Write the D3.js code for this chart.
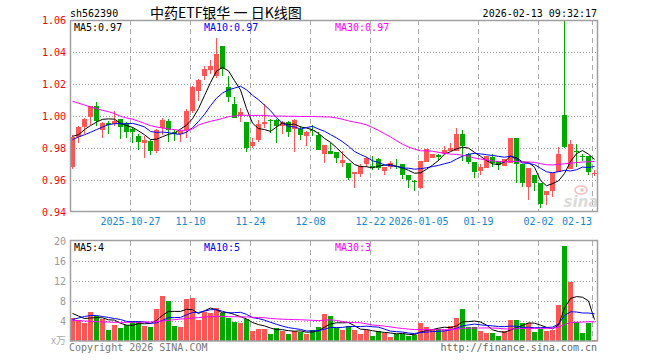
<!DOCTYPE html>
<html>
<head>
<meta charset="utf-8">
<script src="https://cdn.jsdelivr.net/npm/d3@7/dist/d3.min.js"></script>
<style>
  body { margin: 0; background: #fff; }
</style>
</head>
<body>
<svg width="660" height="360"></svg>
<script>
// daily K data, 2025-10-13 .. 2026-02-13 (88 sessions)
const open = [
  .968, .987, .993, .9995, 1.006, .9915, .9955, .995, .998, .9955,
  .992, .9877, .983, .9845, .978, .9925, .9967, .990, .9885, .991,
  1.003, 1.0155, 1.025, 1.0285, 1.025, 1.0435, 1.018, 1.0077, 1.0005, .996,
  .981, .985, .995, .9977, .9977, .994, .9965, .9917, .9917, .9875,
  .9913, .9881, .976, .9781, .9775, .9708, .9708, .9635, .9635, .9698,
  .969, .9729, .9656, .968, .969, .9698, .9629, .9595, .9552, .9715,
  .9735, .9755, .976, .978, .978, .9885, .976, .9712, .9656, .9677,
  .9744, .9719, .9688, .9708, .9865, .9698, .9556, .9629, .958, .9506,
  .9531, .9652, 1.0004, .9667, .978, .975, .975, .964
];
const high = [
  .988, .994, .999, 1.0065, 1.0085, .996, .997, 1.003, .998, .996,
  .993, .9885, .9875, .985, .992, .9985, .998, .991, .9915, 1.0046,
  1.019, 1.023, 1.031, 1.035, 1.0485, 1.0435, 1.025, 1.012, 1.0052, .996,
  .9865, .9975, 1.0077, .998, .998, .997, .997, .998, .994, .9905,
  .9944, .990, .9819, .9833, .9775, .9781, .9708, .9652, .9698, .9745,
  .975, .9735, .9681, .9718, .9729, .9698, .9629, .9598, .9719, .9796,
  .9765, .9765, .9812, .9833, .9927, .991, .977, .9712, .970, .975,
  .976, .9719, .9729, .9865, .9865, .9698, .9677, .9629, .958, .9531,
  .9646, .9806, 1.06, .9848, .9827, .976, .975, .9665
];
const low = [
  .967, .983, .989, .9945, .994, .986, .989, .994, .9855, .986,
  .983, .979, .974, .9755, .977, .988, .984, .9845, .984, .986,
  1.002, 1.0095, 1.0225, 1.026, 1.024, 1.025, 1.0085, .9985, .9965, .9775,
  .980, .984, .9927, .9896, .9833, .9885, .987, .9777, .985, .981,
  .9875, .9788, .9704, .976, .9704, .9683, .960, .9548, .962, .968,
  .966, .966, .9631, .967, .967, .9606, .955, .953, .9542, .9715,
  .9735, .9717, .976, .978, .978, .9719, .970, .9615, .963, .9677,
  .968, .9665, .9688, .9708, .9583, .9556, .9473, .9531, .9423, .9444,
  .9494, .9652, .9802, .9667, .9681, .9719, .9631, .9625
];
const close = [
  .987, .993, .998, 1.006, .997, .9955, .9945, .997, .993, .990,
  .990, .9835, .985, .978, .991, .9977, .991, .989, .9905, 1.003,
  1.018, 1.0227, 1.0295, 1.0315, 1.0385, 1.0295, 1.012, .999, 1.0027, .980,
  .984, .995, .996, .9969, .9937, .9965, .990, .9977, .9881, .9902,
  .9908, .9788, .9819, .976, .9735, .9725, .9614, .9652, .969, .9735,
  .9685, .9673, .9681, .9708, .9685, .9631, .9598, .959, .9719, .9796,
  .976, .9745, .9785, .980, .9885, .9812, .9715, .965, .9681, .975,
  .9708, .9694, .9729, .9865, .9698, .958, .9677, .958, .9452, .9531,
  .9646, .9765, .9808, .9827, .9775, .9745, .9652, .9645
];
// volume, 万手
const volume = [
  4.6, 4.3, 3.6, 5.8, 5.1, 4.4, 2.3, 3.3, 2.6, 3.3,
  4.1, 4.1, 3.1, 2.9, 6.4, 9.1, 8.1, 3.1, 2.9, 8.5,
  8.7, 4.3, 5.8, 5.7, 6.7, 5.7, 4.6, 3.8, 3.6, 4.4,
  2.1, 2.5, 2.5, 1.5, 2.7, 2.1, 1.5, 2.0, 1.8, 1.4,
  2.3, 2.9, 5.4, 5.0, 2.6, 2.3, 3.1, 2.3, 1.5, 2.3,
  1.1, 2.1, 1.6, 0.9, 1.5, 1.5, 1.1, 1.3, 3.6, 2.9,
  2.5, 2.5, 2.3, 3.1, 4.7, 6.5, 2.8, 2.9, 2.1, 1.7,
  1.7, 1.1, 2.1, 4.3, 4.3, 3.7, 3.7, 1.8, 2.4, 2.0,
  2.3, 7.3, 19.0, 11.9, 3.9, 1.7, 3.6, 0.3
];

// moving averages before a full window is on screen
const ma5Head = [.9873, .9883, .9915, .994];
const ma10Head = [.9852, .9869, .9883, .9898, .9915, .9931, .9946, .9952, .9952];
const ma30Head = [
  1.0092, 1.008, 1.0069, 1.0056, 1.0046, 1.0035, 1.0027, 1.0015, .9998, .9988,
  .998, .9967, .9954, .994, .9931, .9925, .9919, .9915, .991, .991,
  .9919, .9944, .9956, .9967, .9975, .9985, .9996, 1.0, 1.0004
];
const volMa5Head = [5.5, 5.0, 4.5, 4.6];
const volMa10Head = [4.3, 4.6, 4.9, 5.1, 5.1, 4.9, 4.7, 4.5, 4.3];
const volMa30Head = [
  4.13, 4.07, 4.0, 3.93, 3.87, 3.8, 3.8, 3.73, 3.73, 3.73,
  3.73, 3.73, 3.8, 3.8, 3.87, 4.0, 4.13, 4.27, 4.4, 4.47,
  4.6, 4.67, 4.8, 4.87, 4.93, 4.93, 4.87, 4.87, 4.8
];

const tickIdx = [10, 20, 30, 40, 50, 58, 68, 78, 87];
const tickLabels = ['2025-10-27', '11-10', '11-24', '12-08', '12-22', '2026-01-05', '01-19', '02-02', '02-13'];
const priceTicks = [0.94, 0.96, 0.98, 1.00, 1.02, 1.04, 1.06];
const volTicks = [4, 8, 12, 16, 20];
const maNames = ['MA5', 'MA10', 'MA30'];
const priceMaText = ['0.97', '0.97', '0.97'];
const volMaText = ['4', '5', '3'];

const RED = '#ff5555', GREEN = '#00a800';
const MA_COLORS = ['#000', '#0000ff', '#ff00ff'];
const mono = '"DejaVu Sans Mono", monospace';

const svg = d3.select('svg');
const n = close.length;

const x = d3.scaleBand().domain(d3.range(n)).range([70, 70 + 6 * n - 1]).paddingInner(1 / 6).paddingOuter(0);
const y = d3.scaleLinear().domain([0.94, 1.06]).range([212, 20]);
const yv = d3.scaleLinear().domain([0, 20]).range([341, 241]);

const ma = (arr, k, head) => arr.map((_, i) => i < k - 1 ? head[i] : d3.mean(arr.slice(i - k + 1, i + 1)));
const priceMa = [ma(close, 5, ma5Head), ma(close, 10, ma10Head), ma(close, 30, ma30Head)];
const volMa = [ma(volume, 5, volMa5Head), ma(volume, 10, volMa10Head), ma(volume, 30, volMa30Head)];

const up = i => close[i] >= open[i];

// grid
const grid = svg.append('g').attr('fill', 'none');
grid.selectAll('.hp').data(priceTicks.slice(1, -1)).enter().append('line')
  .attr('x1', 70).attr('x2', 598)
  .attr('y1', d => Math.round(y(d)) + 0.5).attr('y2', d => Math.round(y(d)) + 0.5)
  .attr('stroke', '#999').attr('stroke-dasharray', '1,2');
grid.selectAll('.hv').data(volTicks.slice(0, -1)).enter().append('line')
  .attr('x1', 70).attr('x2', 598)
  .attr('y1', d => Math.round(yv(d)) + 0.5).attr('y2', d => Math.round(yv(d)) + 0.5)
  .attr('stroke', '#999').attr('stroke-dasharray', '1,2');
[[20, 212], [241, 341]].forEach(([a, b]) => {
  grid.selectAll(null).data(tickIdx).enter().append('line')
    .attr('x1', d => x(d) + 0.5).attr('x2', d => x(d) + 0.5)
    .attr('y1', a).attr('y2', b)
    .attr('stroke', '#aaa').attr('stroke-dasharray', '5,4');
});

// watermark
const wm = svg.append('g').attr('opacity', 0.75);
wm.append('ellipse').attr('cx', 581).attr('cy', 190).attr('rx', 6).attr('ry', 4)
  .attr('fill', 'none').attr('stroke', '#f0a8a8').attr('stroke-width', 1.5);
wm.append('circle').attr('cx', 582).attr('cy', 190).attr('r', 1.8).attr('fill', '#f0a8a8');
wm.append('text').attr('x', 581).attr('y', 207).attr('text-anchor', 'middle')
  .attr('font-family', 'DejaVu Sans').attr('font-size', 15).attr('font-weight', 'bold').attr('font-style', 'italic')
  .attr('fill', '#cfcfcf').text('sina');

// candles
const candles = svg.append('g').attr('shape-rendering', 'crispEdges');
candles.selectAll('.wick').data(d3.range(n)).enter().append('rect')
  .attr('x', i => x(i) + 2).attr('width', 1)
  .attr('y', i => y(high[i])).attr('height', i => Math.max(1, y(low[i]) - y(high[i])))
  .attr('fill', i => up(i) ? RED : GREEN);
candles.selectAll('.body').data(d3.range(n)).enter().append('rect')
  .attr('x', i => x(i)).attr('width', x.bandwidth())
  .attr('y', i => y(Math.max(open[i], close[i])))
  .attr('height', i => Math.max(1, Math.abs(y(open[i]) - y(close[i]))))
  .attr('fill', i => up(i) ? RED : GREEN);

// volume bars
svg.append('g').attr('shape-rendering', 'crispEdges')
  .selectAll('rect').data(volume).enter().append('rect')
  .attr('x', (d, i) => x(i)).attr('width', x.bandwidth())
  .attr('y', d => yv(d)).attr('height', d => yv(0) - yv(d))
  .attr('fill', (d, i) => up(i) ? RED : GREEN);

// moving average lines
const cx = i => x(i) + 2.5;
priceMa.forEach((s, k) => {
  svg.append('path').datum(s)
    .attr('d', d3.line().x((d, i) => cx(i)).y(d => y(d)))
    .attr('fill', 'none').attr('stroke', MA_COLORS[k]).attr('stroke-width', 1);
});
volMa.forEach((s, k) => {
  svg.append('path').datum(s)
    .attr('d', d3.line().x((d, i) => cx(i)).y(d => yv(d)))
    .attr('fill', 'none').attr('stroke', MA_COLORS[k]).attr('stroke-width', 1);
});

// frames
svg.append('rect').attr('x', 70.5).attr('y', 20.5).attr('width', 527).attr('height', 191)
  .attr('fill', 'none').attr('stroke', '#a0a0a0').attr('stroke-width', 1.5);
svg.append('rect').attr('x', 70.5).attr('y', 240.5).attr('width', 527).attr('height', 100.5)
  .attr('fill', 'none').attr('stroke', '#a0a0a0').attr('stroke-width', 1.5);

// axes
const yAxis = svg.append('g').attr('transform', 'translate(67,0)')
  .call(d3.axisLeft(y).tickValues(priceTicks).tickFormat(d3.format('.2f')).tickSize(0).tickPadding(1));
yAxis.select('.domain').remove();
yAxis.selectAll('text').attr('fill', '#f00').attr('font-family', mono).attr('font-size', 10);

const vAxis = svg.append('g').attr('transform', 'translate(67,0)')
  .call(d3.axisLeft(yv).tickValues(volTicks).tickSize(0).tickPadding(1));
vAxis.select('.domain').remove();
vAxis.selectAll('text').attr('fill', '#999').attr('font-family', mono).attr('font-size', 10);
svg.append('text').attr('x', 66).attr('y', 344).attr('text-anchor', 'end')
  .attr('font-family', 'Noto Sans CJK SC').attr('font-size', 10).attr('fill', '#aaa').text('x万');

svg.append('g').selectAll('text').data(tickIdx).enter().append('text')
  .attr('x', (d, i) => i === tickIdx.length - 1 ? x(d) : x(d) + 0.5)
  .attr('y', 225)
  .attr('text-anchor', (d, i) => i === tickIdx.length - 1 ? 'end' : 'middle')
  .attr('font-family', mono).attr('font-size', 10).attr('fill', '#1585d8')
  .text((d, i) => tickLabels[i]);

// legends
const legX = [74, 204, 335];
maNames.forEach((m, k) => {
  svg.append('text').attr('x', legX[k]).attr('y', 31)
    .attr('font-family', mono).attr('font-size', 10).attr('fill', MA_COLORS[k])
    .text(m + ':' + priceMaText[k]);
  svg.append('text').attr('x', legX[k]).attr('y', 251)
    .attr('font-family', mono).attr('font-size', 10).attr('fill', MA_COLORS[k])
    .text(m + ':' + volMaText[k]);
});

// header and footer
svg.append('text').attr('x', 70).attr('y', 17).attr('font-family', mono).attr('font-size', 10).text('sh562390');
svg.append('text').attr('x', 150).attr('y', 18).attr('font-family', '"Noto Sans CJK SC"').attr('font-size', 14)
  .text('中药ETF银华 一 日K线图');
svg.append('text').attr('x', 597).attr('y', 17).attr('text-anchor', 'end')
  .attr('font-family', mono).attr('font-size', 10).text('2026-02-13 09:32:17');
svg.append('text').attr('x', 69).attr('y', 351).attr('font-family', mono).attr('font-size', 10)
  .attr('fill', '#777').text('Copyright 2026 SINA.COM');
svg.append('text').attr('x', 597).attr('y', 351).attr('text-anchor', 'end').attr('font-family', mono)
  .attr('font-size', 10).attr('fill', '#666').text('http://finance.sina.com.cn');
</script>
</body>
</html>
